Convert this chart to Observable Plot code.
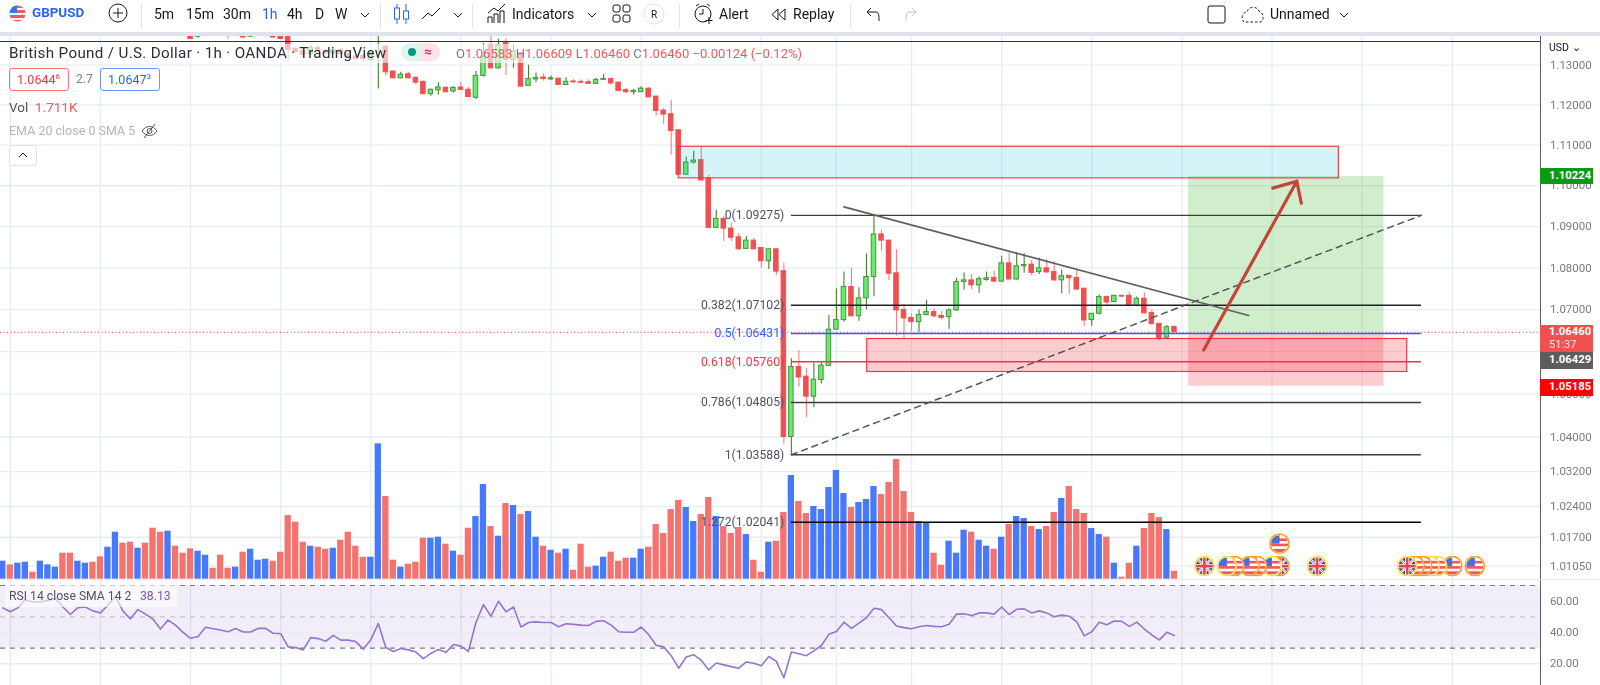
<!DOCTYPE html>
<html><head><meta charset="utf-8">
<script src="https://cdn.jsdelivr.net/npm/d3@7"></script>
<script src="https://cdn.jsdelivr.net/npm/@observablehq/plot@0.6"></script>
<style>
html,body{margin:0;padding:0;background:#fff;overflow:hidden}
#root{position:relative;width:1600px;height:685px;font-family:Roboto,"Noto Sans",sans-serif;color:#131722;overflow:hidden;filter:blur(.3px)}
#root svg.plot,#root>div>svg{position:absolute;left:0;top:0}
.a{position:absolute;white-space:nowrap;line-height:1}
.t{font-size:14px;top:6.5px;color:#131722}
.sep{position:absolute;top:4px;height:24px;width:1px;background:#e0e3eb}
.tag{position:absolute;left:1540px;width:53px;color:#fff;font-size:11.3px;font-weight:700;padding-left:9px;box-sizing:border-box;line-height:16px}
.ico{position:absolute;overflow:visible}
</style></head><body><div id="root"></div>
<script>
// ---------- bars: one volume reading and one RSI reading per hourly bar (index 0..156)
const volumeReadings = [54,43,48,51,21,54,43,36,78,78,54,48,51,67,96,141,108,111,93,108,153,141,144,99,78,91,84,72,33,72,33,36,81,90,57,60,54,81,191,171,111,99,96,90,93,117,141,99,66,66,406,248,57,
36,45,51,123,123,126,105,84,72,153,188,284,158,129,227,221,194,203,126,99,87,78,90,27,105,36,39,66,81,54,63,63,90,96,164,137,209,236,215,173,194,245,188,158,137,155,134,57,21,111,114,200,311,233,
197,218,209,275,326,257,215,230,239,278,254,290,359,263,200,173,170,78,42,114,78,147,141,117,99,90,126,164,188,182,158,149,158,200,242,278,209,197,152,134,126,48,6,48,99,152,197,185,149,24];
const rsi = [55.7,53.2,55.7,60.9,59.5,59.5,60.5,61.6,56.3,51.5,55.9,56.3,53.8,52.5,57.4,63.1,53.6,48.7,54.6,51.7,48.5,42.2,47.9,44.7,40.1,36.3,37.4,43.3,42.4,41.6,40.5,42.6,40.3,40.3,42.6,42.6,39.5,39.3,30.8,30.4,28.9,36.7,36.1,34.4,38.2,35.1,35.1,34.2,29.4,35.3,45.8,30.4,27.9,
29.8,28.9,27.5,23.3,26.6,29.2,27.3,32.3,31.3,27.9,46.4,57.8,50.4,59.9,53.2,56.3,43.5,46.4,46.8,46.4,46.4,43.7,45.6,45.2,44.7,44.5,47.1,47.5,44.7,40.5,40.1,40.1,43.5,38.6,31.9,30.8,25.2,17.2,24.3,25.8,22.2,16.1,20.5,19.3,18.2,17.2,21.2,20.3,18.8,24.7,21.6,11.1,27.5,26.4,
25.2,28.3,31.7,38.8,40.7,46.6,42.6,46,49.4,55.5,54.6,49.4,44.1,43.1,42.4,43.7,44.5,43.9,43.7,45.2,51.7,51.9,50.8,52.5,52.5,51.7,56.3,51.5,54.8,55.1,52.5,53.8,52.5,50,51.1,50.4,46.8,37.8,40.5,46.6,44.9,47.3,47.1,43.9,46.6,42.2,38.4,35.3,40.1,38.13];
// ---------- candles visible in the pane start at bar 25
const firstCandle = 25;
const open = [1.1378,1.1372,1.1376,1.1410,1.1400,1.1395,1.1385,1.1385,1.1372,1.1374,
1.1374,1.1380,1.1378,1.1371,1.1341,1.1336,1.1328,1.1343,1.1335,1.1330,
1.1338,1.1328,1.1322,1.1323,1.1313,1.1390,1.1347,1.1284,1.1267,1.1277,
1.1268,1.1258,1.1227,1.1237,1.1243,1.1234,1.1244,1.1238,1.1218,1.1273,
1.1351,1.1292,1.1356,1.1313,1.1330,1.1248,1.1264,1.1269,1.1264,1.1266,
1.1250,1.1259,1.1258,1.1257,1.1253,1.1263,1.1265,1.1256,1.1237,1.1232,
1.1232,1.1241,1.1221,1.1186,1.1177,1.1137,1.1027,1.1057,1.1063,1.1018,
1.0897,1.0919,1.0895,1.0874,1.0846,1.0866,1.0848,1.0816,1.0845,1.0792,
1.0400,1.0564,1.0541,1.0494,1.0533,1.0566,1.0652,1.0675,1.0754,1.0684,
1.0727,1.0778,1.0881,1.0866,1.0787,1.0699,1.0680,1.0670,1.0687,1.0694,
1.0685,1.0682,1.0698,1.0766,1.0770,1.0758,1.0771,1.0776,1.0767,1.0811,
1.0772,1.0804,1.0808,1.0790,1.0799,1.0790,1.0770,1.0781,1.0776,1.0750,
1.0675,1.0690,1.0730,1.0718,1.0733,1.0733,1.0709,1.0726,1.0692,1.0666,1.0633,1.06583];
const high = [1.1380,1.1380,1.1384,1.1420,1.1405,1.1400,1.1400,1.1390,1.1390,1.1385,
1.1385,1.1385,1.1382,1.1376,1.1345,1.1340,1.1350,1.1348,1.1340,1.1345,
1.1342,1.1332,1.1326,1.1328,1.1338,1.1450,1.1351,1.1286,1.1282,1.1282,
1.1271,1.1260,1.1240,1.1256,1.1246,1.1246,1.1257,1.1244,1.1284,1.1355,
1.1375,1.1366,1.1366,1.1351,1.1333,1.1300,1.1280,1.1278,1.1273,1.1267,
1.1268,1.1263,1.1263,1.1263,1.1267,1.1277,1.1268,1.1257,1.1241,1.1239,
1.1246,1.1243,1.1222,1.1192,1.1212,1.1138,1.1070,1.1085,1.1096,1.1026,
1.0940,1.0925,1.0908,1.0883,1.0876,1.0871,1.0848,1.0845,1.0845,1.0812,
1.0583,1.0602,1.0561,1.0573,1.0573,1.0686,1.0750,1.0790,1.0799,1.0752,
1.0834,1.09275,1.0892,1.0866,1.0844,1.0712,1.0690,1.0699,1.0722,1.0702,
1.0695,1.0702,1.0775,1.0788,1.0784,1.0778,1.0790,1.0792,1.0828,1.0836,
1.0837,1.0835,1.0818,1.0824,1.0820,1.0815,1.0795,1.0782,1.0794,1.0750,
1.0690,1.0735,1.0732,1.0734,1.0734,1.0740,1.0730,1.0740,1.0699,1.0666,1.0662,1.06609];
const low = [1.1365,1.1368,1.1375,1.1395,1.1390,1.1366,1.1380,1.1368,1.1372,1.1372,
1.1372,1.1368,1.1364,1.1308,1.1330,1.1322,1.1325,1.1332,1.1326,1.1326,
1.1325,1.1318,1.1312,1.1310,1.1310,1.1240,1.1273,1.1265,1.1266,1.1265,
1.1250,1.1226,1.1222,1.1225,1.1230,1.1230,1.1236,1.1218,1.1214,1.1270,
1.1290,1.1290,1.1274,1.1292,1.1244,1.1247,1.1256,1.1260,1.1261,1.1249,
1.1249,1.1254,1.1254,1.1252,1.1252,1.1263,1.1250,1.1234,1.1229,1.1225,
1.1231,1.1218,1.1172,1.1152,1.1075,1.1026,1.1027,1.1053,1.1012,1.0897,
1.0897,1.0864,1.0864,1.0842,1.0846,1.0844,1.0799,1.0796,1.0782,1.0383,
1.03588,1.0516,1.0445,1.0468,1.0524,1.0566,1.0652,1.0670,1.0682,1.0672,
1.0700,1.0731,1.0840,1.0770,1.0637,1.0630,1.0647,1.0645,1.0685,1.0680,
1.0675,1.0653,1.0696,1.0747,1.0748,1.0739,1.0768,1.0766,1.0766,1.0772,
1.0771,1.0787,1.0782,1.0784,1.0787,1.0768,1.0738,1.0736,1.0746,1.0660,
1.0660,1.0687,1.0709,1.0717,1.0730,1.0709,1.0707,1.0690,1.0662,1.0626,1.0630,1.0646];
const close = [1.1366,1.1376,1.1380,1.1400,1.1392,1.1385,1.1395,1.1370,1.1376,1.1378,
1.1377,1.1370,1.1366,1.1338,1.1333,1.1326,1.1343,1.1335,1.1330,1.1338,
1.1328,1.1322,1.1316,1.1315,1.1330,1.1430,1.1282,1.1267,1.1276,1.1267,
1.1256,1.1227,1.1238,1.1244,1.1232,1.1243,1.1238,1.1220,1.1273,1.1321,
1.1292,1.1351,1.1313,1.1334,1.1246,1.1265,1.1268,1.1265,1.1267,1.1250,
1.1258,1.1257,1.1256,1.1253,1.1263,1.1265,1.1254,1.1235,1.1232,1.1235,
1.1241,1.1219,1.1185,1.1176,1.1135,1.1027,1.1057,1.1062,1.1013,1.0897,
1.0919,1.0895,1.0873,1.0845,1.0866,1.0845,1.0816,1.0845,1.0791,1.0400,
1.0564,1.0539,1.0494,1.0534,1.0567,1.0652,1.0675,1.0754,1.0684,1.0727,
1.0778,1.0881,1.0866,1.0786,1.0698,1.0679,1.0670,1.0687,1.0694,1.0684,
1.0680,1.0698,1.0766,1.0770,1.0758,1.0773,1.0775,1.0767,1.0811,1.0772,
1.0804,1.0807,1.0788,1.0799,1.0789,1.0770,1.0780,1.0775,1.0748,1.0674,
1.0690,1.0730,1.0717,1.0733,1.0731,1.0710,1.0726,1.0691,1.0666,1.0630,1.0658,1.0646];
// ---------- axes
const priceTicks = [1.13,1.12,1.11,1.10,1.09,1.08,1.07,1.06,1.05,1.04,1.032,1.024,1.017,1.0105];
const rsiTicks = [60,40,20];
const rsiBands = [70,50,30];
const timeGrid = [1,13,25,37,49,61,73,85,101,111,121,133,145,157,169,181,193];
// ---------- fibonacci retracement
const fibLevels = ["0","0.382","0.5","0.618","0.786","1","1.272"];
const fibPrices = [1.09275,1.07102,1.06431,1.05760,1.04805,1.03588,1.02041];
const fibColors = ["#3d3d3d","#222","#2962ff","#f23645","#3d3d3d","#3d3d3d","#000"];
const fibText = ["#50535e","#50535e","#2962ff","#f23645","#50535e","#50535e","#50535e"];
const fibStart = 105, fibEnd = 188.9;
// ---------- other drawings (bar index, price)
const diagX = [105,188.9], diagY = [1.03588,1.09275];
const trendX = [112,165.9], trendY = [1.0948,1.0686];
const supplyZone = {x1:90,x2:177.9,y1:1.1096,y2:1.1018};
const demandZone = {x1:115.1,x2:187,y1:1.0630,y2:1.0552};
const longPos = {x1:157.9,x2:183.9,target:1.10224,entry:1.06429,stop:1.05185};
const arrowX = [159.9,172.3], arrowY = [1.0604,1.1011];
const headX = [169.1,172.3,172.9], headY = [1.0994,1.1011,1.0957];
const lastPrice = 1.0646;
// ---------- economic calendar markers
const eventBars = [160,163,164,166,167,169,170,170,175,187,188,189,190,191,193,196];
const eventFlags = ["uk","us","us","us","us","us","uk","us","uk","uk","us","us","us","us","us","us"];
const eventRings = ["y","y","o","o","o","y","o","o","y","y","o","o","y","y","o","o"];
const eventLevels = [2.8,2.8,2.8,2.8,2.8,2.8,2.8,7.6,2.8,2.8,2.8,2.8,2.8,2.8,2.8,2.8];
// colour of the volume bars before the first candle
const earlyColors = "BRBBRBBBRRBBRRBBRRBRRRBRRRB".split("");

// ---------- derived rows
const volume = volumeReadings.map(v => v * 1.711 / 24);
const xDomain = [-0.306, 212.74];
const axisEdge = 204.78, axisText = 206;
const up = "#66ee6a", upLine = "#4f8f45", upWick = "#3f8328", dn = "#f05050", dnWick = "#f67f7f";
const candles = open.map((o,k)=>({i:firstCandle+k,o,h:high[k],l:low[k],c:close[k],isUp:close[k]>=o}));
const fib = fibLevels.map((l,k)=>({l,p:fibPrices[k],c:fibColors[k],t:fibText[k]}));
const bars = volume.map((v,i)=>({i,v,rsi:rsi[i],red:i>=earlyColors.length?close[i-firstCandle]<open[i-firstCandle]:earlyColors[i]==="R"}));
const common = {width:1600,height:685,marginTop:0,marginRight:0,marginBottom:0,marginLeft:0,
  x:{domain:xDomain,range:[0,1600],axis:null},
  style:{background:"transparent",position:"absolute",left:0,top:0,overflow:"visible"}};
const priceY = {type:"log",domain:[1.14643,0.98388],range:[0,685],axis:null};
const volY = {type:"linear",domain:[0,100],range:[578.7,111.1],axis:null};
const rsiY = {type:"linear",domain:[20,70],range:[663.3,585],axis:null};
const gridColor = "#e7eef3";
const axisFont = {fontFamily:"Roboto,sans-serif",fontSize:11.5,fill:"#787b86",textAnchor:"start"};

const flagUri = (flag,ring)=>{
  const rc = ring==="y" ? "#ffdf3c" : "#ff9f1a";
  const body = flag==="us"
   ? `<rect width="24" height="24" fill="#fff"/><rect y="12" width="24" height="3" fill="#f2565b"/><rect y="18" width="24" height="4" fill="#f2565b"/><rect y="6" x="11" width="13" height="3" fill="#f2565b"/><rect y="1" x="1" width="11" height="11" fill="#3f72e6"/>`
   : `<rect width="24" height="24" fill="#2a4ea8"/><path d="M0 0L24 24M24 0L0 24" stroke="#fff" stroke-width="3"/><path d="M0 0L24 24M24 0L0 24" stroke="#e8424d" stroke-width="1"/><path d="M12 0V24M0 12H24" stroke="#fff" stroke-width="5"/><path d="M12 0V24M0 12H24" stroke="#e8424d" stroke-width="3"/>`;
  return "data:image/svg+xml;charset=utf-8,"+encodeURIComponent(`<svg xmlns="http://www.w3.org/2000/svg" viewBox="0 0 24 24"><clipPath id="c"><circle cx="12" cy="12" r="10"/></clipPath><circle cx="12" cy="12" r="11" fill="#fff"/><g clip-path="url(#c)">${body}</g><circle cx="12" cy="12" r="10.4" fill="none" stroke="#fff" stroke-width=".8"/><circle cx="12" cy="12" r="11" fill="none" stroke="${rc}" stroke-width="1.8"/></svg>`);
};
const events = eventBars.map((i,k)=>({i,f:eventFlags[k],r:eventRings[k],v:eventLevels[k]})).reverse();

const gridPlot = Plot.plot({...common,y:priceY,marks:[
  Plot.ruleX(timeGrid,{x:d=>d,y1:1.1464,y2:0.98388,stroke:gridColor,strokeWidth:1.4}),
  Plot.ruleY(priceTicks,{y:d=>d,x1:xDomain[0],x2:axisEdge,stroke:gridColor,strokeWidth:1.4}),
  Plot.text(priceTicks,{x:()=>axisText,y:d=>d,text:d=>d.toFixed(5),...axisFont})
]});
const volPlot = Plot.plot({...common,y:volY,marks:[
  Plot.rect(bars,{x1:d=>d.i-.42,x2:d=>d.i+.42,y1:0,y2:"v",fill:d=>d.red?"#f4736f":"#4679fb"}),
  Plot.image(events,{x:"i",y:"v",src:d=>flagUri(d.f,d.r),width:21,height:21})
]});
const rsiPlot = Plot.plot({...common,y:rsiY,marks:[
  Plot.rect([{}],{x1:()=>xDomain[0],x2:()=>axisEdge,y1:()=>70,y2:()=>30,fill:"#7e57c2",fillOpacity:.1}),
  Plot.ruleY(rsiTicks,{y:d=>d,x1:xDomain[0],x2:axisEdge,stroke:gridColor,strokeWidth:1.4}),
  Plot.ruleY(rsiBands,{y:d=>d,x1:xDomain[0],x2:axisEdge,stroke:d=>d===50?"#c3c5cc":"#787b86",strokeWidth:1.2,strokeDasharray:"5,5"}),
  Plot.line(bars,{x:"i",y:"rsi",stroke:"#9575cd",strokeWidth:1.6,curve:"linear"}),
  Plot.text(rsiTicks,{x:()=>axisText,y:d=>d,text:d=>d.toFixed(2),...axisFont})
]});
const pricePlot = Plot.plot({...common,y:priceY,marks:[
  Plot.ruleY([lastPrice],{y:d=>d,x1:xDomain[0],x2:axisEdge,stroke:"#f23645",strokeWidth:1,strokeDasharray:"1,2.5"}),
  Plot.ruleX(candles,{x:"i",y1:"h",y2:"l",stroke:d=>d.isUp?upWick:dnWick,strokeWidth:1.1}),
  Plot.rect(candles,{x1:d=>d.i-.3,x2:d=>d.i+.3,y1:"o",y2:"c",fill:d=>d.isUp?up:dn,stroke:d=>d.isUp?upLine:dn,strokeWidth:1}),
  // long position
  Plot.rect([longPos],{x1:"x1",x2:"x2",y1:"entry",y2:"target",fill:"#5cc04f",fillOpacity:.29}),
  Plot.rect([longPos],{x1:"x1",x2:"x2",y1:"entry",y2:"stop",fill:"#f23645",fillOpacity:.25}),
  // zones
  Plot.rect([supplyZone],{x1:"x1",x2:"x2",y1:"y1",y2:"y2",fill:"#00bcd4",fillOpacity:.16,stroke:"#f23645",strokeWidth:1.15}),
  Plot.rect([demandZone],{x1:"x1",x2:"x2",y1:"y1",y2:"y2",fill:"#f23645",fillOpacity:.25,stroke:"#f23645",strokeWidth:1.15}),
  // fibonacci
  Plot.ruleY(fib,{y:"p",x1:fibStart,x2:fibEnd,stroke:"c",strokeWidth:1.4}),
  Plot.text(fib,{x:()=>fibStart-.95,y:"p",text:d=>`${d.l}(${d.p.toFixed(5)})`,fill:"t",textAnchor:"end",fontFamily:"Roboto,sans-serif",fontSize:12.2}),
  Plot.line(diagX.map((x,k)=>({x,y:diagY[k]})),{x:"x",y:"y",stroke:"#555",strokeWidth:1.5,strokeDasharray:"6,5"}),
  Plot.line(trendX.map((x,k)=>({x,y:trendY[k]})),{x:"x",y:"y",stroke:"#5f5f5f",strokeWidth:1.7}),
  Plot.line(arrowX.map((x,k)=>({x,y:arrowY[k]})),{x:"x",y:"y",stroke:"#c4443a",strokeWidth:3.2}),
  Plot.line(headX.map((x,k)=>({x,y:headY[k]})),{x:"x",y:"y",stroke:"#c4443a",strokeWidth:3.2})
]});
const root = document.getElementById("root");
[gridPlot,volPlot,rsiPlot,pricePlot].forEach(p=>root.appendChild(p));

const chrome = document.createElement("div");
chrome.innerHTML = `
<div class="a" style="left:5px;top:44px;width:800px;height:19px;background:rgba(255,255,255,.62)"></div>
<div class="a" style="left:0;top:0;width:1600px;height:32px;background:#fff"></div>
<div class="a" style="left:0;top:32px;width:1600px;height:4px;background:#e0e3eb"></div>
<div class="a" style="left:0;top:40.5px;width:1540px;height:1.2px;background:#333"></div>
<div class="a" style="left:1539.5px;top:36px;width:1.4px;height:649px;background:#5a5a5a"></div>
<div class="a" style="left:0;top:578.5px;width:1600px;height:1.5px;background:#e9ebf1"></div>

<svg class="ico" style="left:8px;top:4px" width="19" height="19" viewBox="0 0 19 19"><defs><clipPath id="lg"><circle cx="9.5" cy="9.5" r="8"/></clipPath></defs><g clip-path="url(#lg)"><rect width="19" height="19" fill="#ef5a5a"/><rect y="4" width="19" height="2" fill="#fff"/><rect y="9" width="19" height="2" fill="#fff"/><rect y="14" width="19" height="2" fill="#fff"/><rect width="9" height="9" fill="#3f72e6"/></g></svg>
<div class="a" style="left:32px;top:6px;font-size:13.4px;font-weight:700;color:#2962ff">GBPUSD</div>
<svg class="ico" style="left:108px;top:3px" width="20" height="20"><circle cx="10" cy="10" r="9" fill="none" stroke="#131722"/><path d="M10 5V15M5 10H15" stroke="#131722"/></svg>
<div class="sep" style="left:141px"></div>
<div class="a t" style="left:154px">5m</div><div class="a t" style="left:186px">15m</div><div class="a t" style="left:223px">30m</div>
<div class="a t" style="left:262px;color:#2962ff">1h</div><div class="a t" style="left:287px">4h</div><div class="a t" style="left:315px">D</div><div class="a t" style="left:335px">W</div>
<svg class="ico" style="left:360px;top:11px" width="10" height="8"><path d="M1 2L5 6L9 2" fill="none" stroke="#131722"/></svg>
<div class="sep" style="left:380px"></div>
<svg class="ico" style="left:393px;top:3px" width="18" height="22"><path d="M4 1V21M13 1V21" stroke="#2962ff"/><rect x="1.5" y="5" width="5" height="11" fill="#fff" stroke="#2962ff"/><rect x="10.5" y="8" width="5" height="8" fill="#fff" stroke="#2962ff"/></svg>
<svg class="ico" style="left:421px;top:6px" width="20" height="16"><path d="M1 13L7 7L11 10L19 2" fill="none" stroke="#131722"/></svg>
<svg class="ico" style="left:453px;top:11px" width="10" height="8"><path d="M1 2L5 6L9 2" fill="none" stroke="#131722"/></svg>
<div class="sep" style="left:472px"></div>
<svg class="ico" style="left:487px;top:3px" width="19" height="21"><path d="M1 10L7 5L11 8L18 1" fill="none" stroke="#131722"/><path d="M1 20V14H5V20M7 20V11H11V20M13 20V8H17V20" fill="none" stroke="#131722"/></svg>
<div class="a t" style="left:512px">Indicators</div>
<svg class="ico" style="left:587px;top:11px" width="10" height="8"><path d="M1 2L5 6L9 2" fill="none" stroke="#131722"/></svg>
<svg class="ico" style="left:612px;top:4px" width="20" height="20"><g fill="none" stroke="#131722"><rect x="1" y="1" width="7" height="7" rx="2"/><rect x="11" y="1" width="7" height="7" rx="2"/><rect x="1" y="11" width="7" height="7" rx="2"/><rect x="11" y="11" width="7" height="7" rx="2"/></g></svg>
<svg class="ico" style="left:643px;top:3px" width="22" height="22"><circle cx="11" cy="11" r="10" fill="none" stroke="#e0e3eb"/><text x="11" y="15" text-anchor="middle" font-size="10" fill="#131722" font-family="Roboto">R</text></svg>
<div class="sep" style="left:679px"></div>
<svg class="ico" style="left:693px;top:3px" width="22" height="22"><circle cx="10" cy="11" r="8" fill="none" stroke="#131722"/><path d="M10 6V11H6M3 3L6 1M17 3L14 1M16 14V21M12.5 17.5H19.5" fill="none" stroke="#131722"/></svg>
<div class="a t" style="left:719px">Alert</div>
<svg class="ico" style="left:771px;top:8px" width="16" height="13"><path d="M7 1L1 6.5L7 12V1ZM14 1L8 6.5L14 12V1Z" fill="none" stroke="#131722"/></svg>
<div class="a t" style="left:793px">Replay</div>
<div class="sep" style="left:850px"></div>
<svg class="ico" style="left:866px;top:7px" width="16" height="16"><path d="M5 1L1 5L5 9M1 5H10C13 5 13 9 13 14" fill="none" stroke="#131722"/></svg>
<svg class="ico" style="left:903px;top:7px" width="16" height="16"><path d="M9 1L13 5L9 9M13 5H6C3 5 3 9 3 14" fill="none" stroke="#c1c4cd"/></svg>
<svg class="ico" style="left:1207px;top:4px" width="19" height="20"><rect x="1" y="2" width="17" height="17" rx="2" fill="none" stroke="#131722"/></svg>
<svg class="ico" style="left:1241px;top:4px" width="24" height="20"><path d="M3 18C-1 14 2 8 6 8C7 3 15 1 18 7C23 9 23 16 20 18Z" fill="none" stroke="#131722" stroke-dasharray="2.5,2"/></svg>
<div class="a t" style="left:1270px">Unnamed</div>
<svg class="ico" style="left:1339px;top:11px" width="10" height="8"><path d="M1 2L5 6L9 2" fill="none" stroke="#131722"/></svg>

<div class="a" style="left:9px;top:45.5px;font-size:15.2px;letter-spacing:.33px;color:#2a2e39">British Pound / U.S. Dollar · 1h · OANDA · TradingView</div>
<div class="a" style="left:401px;top:43px;width:20px;height:18px;background:#dff3ef;border-radius:9px 0 0 9px"></div>
<div class="a" style="left:421px;top:43px;width:19px;height:18px;background:#fde2ea;border-radius:0 9px 9px 0"></div>
<div class="a" style="left:408px;top:48px;width:8px;height:8px;background:#089981;border-radius:4px"></div>
<div class="a" style="left:424px;top:45px;font-size:13px;font-weight:700;color:#e91e63">≈</div>
<div class="a" style="left:456px;top:46.5px;font-size:13.05px;color:#787b86">O<span style="color:#f2595e">1.06583</span> H<span style="color:#f2595e">1.06609</span> L<span style="color:#f2595e">1.06460</span> C<span style="color:#f2595e">1.06460 −0.00124 (−0.12%)</span></div>
<div class="a" style="left:8.5px;top:67.5px;width:60px;height:23px;box-sizing:border-box;border:1.3px solid #f7767d;border-radius:3px;color:#f23645;font-size:12.5px;line-height:21px;text-align:center">1.0644<sup style="font-size:8px;line-height:0">6</sup></div>
<div class="a" style="left:76px;top:73px;font-size:12px;color:#787b86">2.7</div>
<div class="a" style="left:99.5px;top:67.5px;width:60px;height:23px;box-sizing:border-box;border:1.3px solid #6f92ff;border-radius:3px;color:#2962ff;font-size:12.5px;line-height:21px;text-align:center">1.0647<sup style="font-size:8px;line-height:0">3</sup></div>
<div class="a" style="left:9px;top:101px;font-size:13.5px;color:#50535e">Vol</div>
<div class="a" style="left:35px;top:101px;font-size:13.5px;color:#f2595e">1.711K</div>
<div class="a" style="left:9px;top:125px;font-size:12.5px;color:#b2b5be">EMA 20 close 0 SMA 5</div>
<svg class="ico" style="left:141px;top:123px" width="17" height="16"><path d="M1 8C5 2 12 2 16 8C12 14 5 14 1 8Z" fill="none" stroke="#50535e"/><circle cx="8.5" cy="8" r="2.5" fill="none" stroke="#50535e"/><path d="M3 15L14 1" stroke="#50535e"/></svg>
<div class="a" style="left:9px;top:145px;width:28px;height:21px;box-sizing:border-box;background:#fff;border:1px solid #e0e3eb;border-radius:3px"></div>
<svg class="ico" style="left:18px;top:151px" width="10" height="8"><path d="M1 6L5 2L9 6" fill="none" stroke="#131722"/></svg>

<div class="a" style="left:5px;top:585px;width:172px;height:22px;background:rgba(255,255,255,.6);border-radius:3px"></div>
<div class="a" style="left:9px;top:590px;font-size:12.2px;color:#50535e">RSI 14 close SMA 14 2</div>
<div class="a" style="left:140px;top:590px;font-size:12.2px;color:#7e57c2">38.13</div>

<div class="a" style="left:1549px;top:43px;font-size:10.5px;color:#131722">USD ⌄</div>
<div class="tag" style="top:168px;height:16px;background:#0a9a14">1.10224</div>
<div class="tag" style="top:324.5px;height:27px;background:#f05050;line-height:13.5px">1.06460<br><span style="font-weight:400;opacity:.8;font-size:11px">51:37</span></div>
<div class="tag" style="top:351.5px;height:17px;background:#5d5d5d">1.06429</div>
<div class="tag" style="top:378.5px;height:17px;background:#ff0000">1.05185</div>`;
root.appendChild(chrome);
</script></body></html>
